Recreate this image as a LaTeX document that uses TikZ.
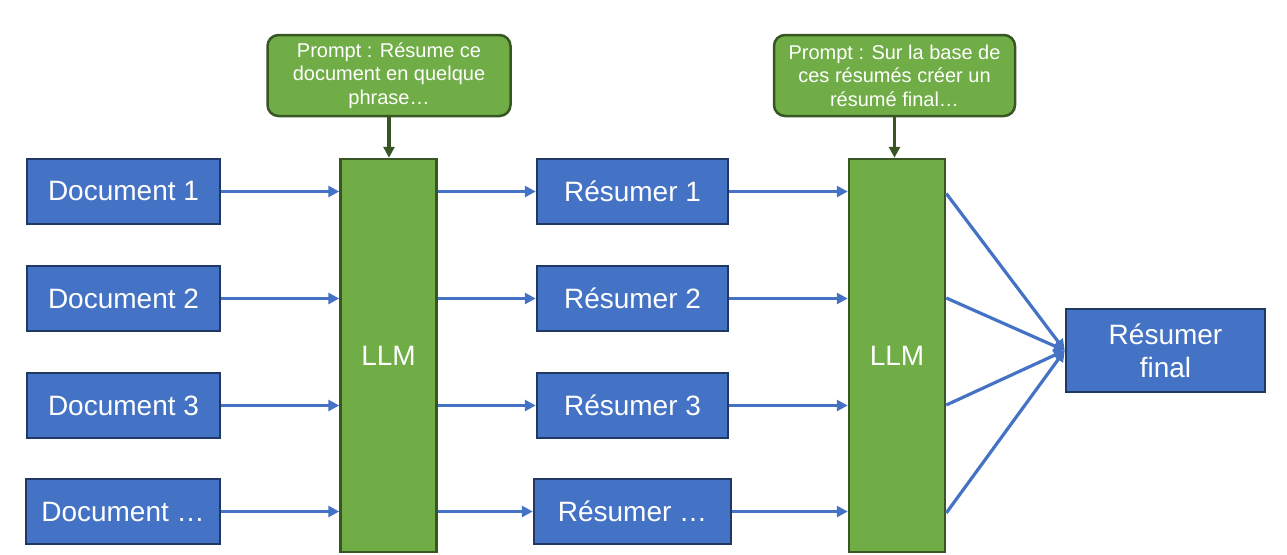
\documentclass[tikz,border=0pt]{standalone}
\usepackage{fontspec}
\setmainfont{Liberation Sans}
\usetikzlibrary{arrows.meta,calc}
\definecolor{bfill}{HTML}{4472C4}
\definecolor{bdraw}{HTML}{1F3864}
\definecolor{gfill}{HTML}{70AD47}
\definecolor{gdraw}{HTML}{375623}
\tikzset{
  bluebox/.style={draw=bdraw,fill=bfill,line width=2.5pt,text=white,inner sep=0pt,
    font=\fontsize{28}{33}\selectfont,align=center},
  llmbox/.style={draw=gdraw,fill=gfill,line width=2.5pt,text=white,inner sep=0pt,
    minimum width=96pt,minimum height=393pt,font=\fontsize{28}{33}\selectfont},
  promptbox/.style={draw=gdraw,fill=gfill,line width=2.5pt,text=white,inner sep=0pt,
    rounded corners=11pt,align=center,font=\fontsize{20}{23.5}\selectfont},
  flow/.style={draw=bfill,line width=3.2pt,-{Triangle[length=11pt,width=11pt]}},
  pflow/.style={draw=gdraw,line width=3.2pt,-{Triangle[length=11pt,width=11pt]}}
}
\begin{document}
\begin{tikzpicture}[x=1pt,y=-1pt]
\useasboundingbox (0,0) rectangle (1287,554);
% documents
\node[bluebox,minimum width=193pt,minimum height=65pt] (d1) at (123.5,191.5) {Document 1};
\node[bluebox,minimum width=193pt,minimum height=65pt] (d2) at (123.5,298.5) {Document 2};
\node[bluebox,minimum width=193pt,minimum height=65pt] (d3) at (123.5,405.5) {Document 3};
\node[bluebox,minimum width=194pt,minimum height=65pt] (d4) at (123,511.5) {Document …};
% LLMs
\node[llmbox] (l1) at (388.5,355.5) {LLM};
\node[llmbox] (l2) at (897,355.5) {LLM};
% summaries
\node[bluebox,minimum width=191pt,minimum height=65pt] (r1) at (632.5,191.5) {Résumer 1};
\node[bluebox,minimum width=191pt,minimum height=65pt] (r2) at (632.5,298.5) {Résumer 2};
\node[bluebox,minimum width=191pt,minimum height=65pt] (r3) at (632.5,405.5) {Résumer 3};
\node[bluebox,minimum width=197pt,minimum height=65pt] (r4) at (632.5,511.5) {Résumer …};
% final
\node[bluebox,minimum width=199pt,minimum height=83pt] (f) at (1165.5,350.5) {Résumer\\final};
% prompts
\node[promptbox,minimum width=243pt,minimum height=81pt] (p1) at (389,75.5) {Prompt : Résume ce\\document en quelque\\phrase…};
\node[promptbox,minimum width=241pt,minimum height=81pt] (p2) at (894.5,75.5) {Prompt : Sur la base de\\ces résumés créer un\\résumé final…};
% connectors
\foreach \i in {1,2,3,4}{
  \draw[flow] (d\i.east) -- (d\i.east -| l1.west);
  \draw[flow] (l1.east |- r\i.west) -- (r\i.west);
  \draw[flow] (r\i.east) -- (r\i.east -| l2.west);
}
\coordinate (t1) at ($(l2.east)+(0,-162)$);
\coordinate (t2) at ($(l2.east)+(0,-57.5)$);
\coordinate (t3) at ($(l2.east)+(0,49.5)$);
\coordinate (t4) at ($(l2.east)+(0,157.5)$);
\foreach \i in {1,2,3,4}{
  \draw[flow] (t\i) -- (f.west);
}
\draw[pflow] (p1.south) -- (p1.south |- l1.north);
\draw[pflow] (p2.south) -- (p2.south |- l2.north);
\end{tikzpicture}
\end{document}
